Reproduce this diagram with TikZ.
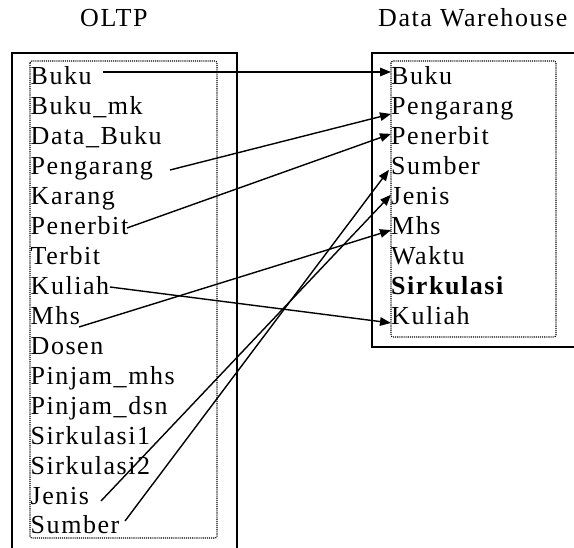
\documentclass[tikz,border=0pt]{standalone}
\usepackage{fontspec}
\setmainfont{Liberation Serif}[LetterSpace=6]
\usetikzlibrary{arrows.meta,calc}
\begin{document}
\begin{tikzpicture}[x=1pt,y=-1pt,
  item/.style={anchor=base west, inner sep=0pt, font=\fontsize{26}{26}\selectfont},
  heading/.style={anchor=base west, inner sep=0pt, font=\fontsize{26}{26}\selectfont},
  frame/.style={line width=1.5pt},
  dotframe/.style={line width=1.1pt, dash pattern=on 1.1pt off 1pt, rounded corners=2pt},
  link/.style={line width=1.4pt, -{Triangle[length=11pt,width=8.5pt]}}
]
\useasboundingbox (0,0) rectangle (574,548);

% headings
\node[heading] (tOltp) at (80,27) {OLTP};
\node[heading] (tDw) at (378,27) {Data Warehouse};

% frames (left one runs off the bottom, right one off the right side)
\draw[frame] (12,560) -- (12,53) -- (237,53) -- (237,560);
\draw[frame] (580,53) -- (372,53) -- (372,347) -- (580,347);
\draw[dotframe] (30,61) rectangle (217,538);
\draw[dotframe] (391,61) rectangle (556,337);

% OLTP tables
\foreach \n/\t [count=\i from 0] in {lBuku/Buku, lBukumk/Buku\_mk, lDatabuku/Data\_Buku,
  lPeng/Pengarang, lKarang/Karang, lPen/Penerbit, lTerbit/Terbit, lKul/Kuliah,
  lMhs/Mhs, lDosen/Dosen, lPjmhs/Pinjam\_mhs, lPjdsn/Pinjam\_dsn,
  lSirk1/Sirkulasi1, lSirk2/Sirkulasi2, lJen/Jenis, lSum/Sumber}
  \node[item] (\n) at (30.5,{85+29.93*\i}) {\t};

% warehouse tables
\foreach \n/\t [count=\i from 0] in {rBuku/Buku, rPeng/Pengarang, rPen/Penerbit,
  rSum/Sumber, rJen/Jenis, rMhs/Mhs, rWaktu/Waktu, rSirk/\textbf{Sirkulasi}, rKul/Kuliah}
  \node[item] (\n) at (391,{85+29.93*\i}) {\t};

% where each connector leaves its source table
\coordinate (sBuku) at (103,72);
\coordinate (sPeng) at (170,170);
\coordinate (sPen)  at (127,228);
\coordinate (sKul)  at (110,287);
\coordinate (sMhs)  at (79,327);
\coordinate (sJen)  at (101,501);
\coordinate (sSum)  at (125,521);

\draw[link] (sBuku) -- (rBuku.west |- sBuku);
\draw[link] (sPeng) -- ($(rPeng.base west)+(0,-1)$);
\draw[link] (sPen)  -- ($(rPen.base west)+(0,-11)$);
\draw[link] (sKul)  -- ($(rKul.base west)+(0,-1.5)$);
\draw[link] (sMhs)  -- ($(rMhs.base west)+(0,-4.5)$);
\draw[link] (sJen)  -- ($(rJen.base west)+(0,-10)$);
\draw[link] (sSum)  -- ($(rSum.base west)+(-2,-5)$);
\end{tikzpicture}
\end{document}
